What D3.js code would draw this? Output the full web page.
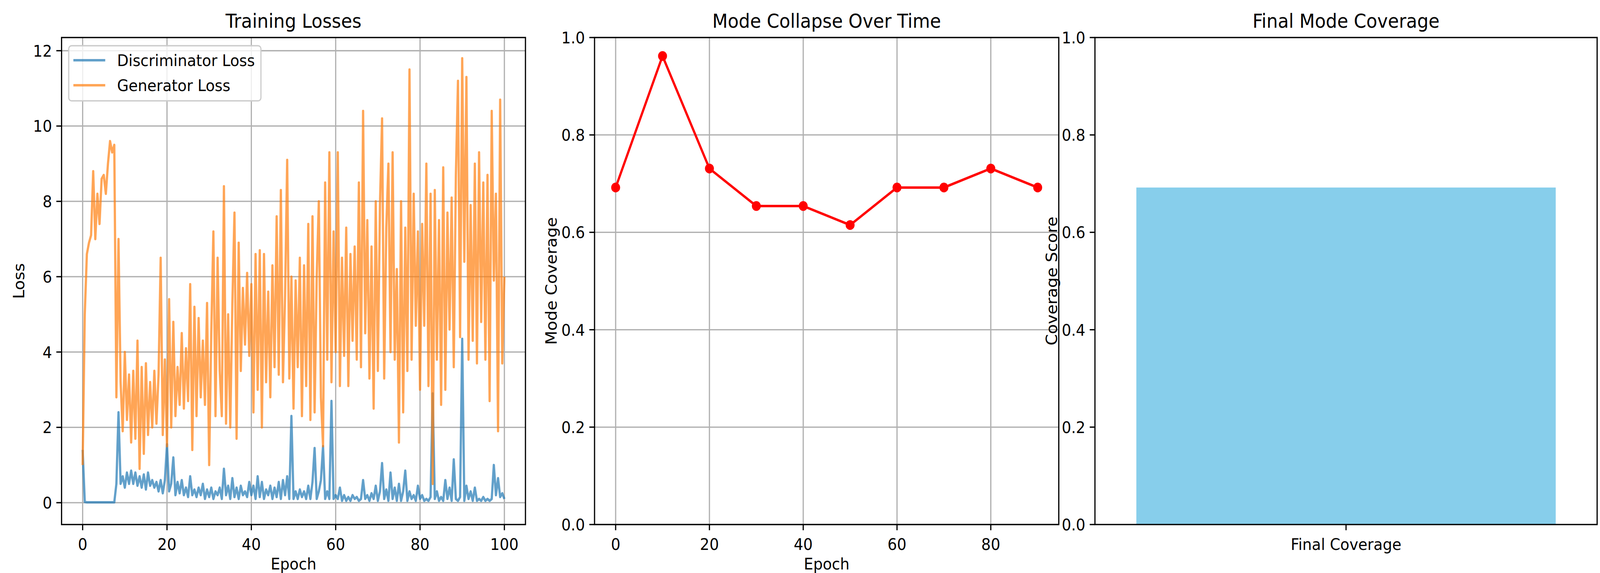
<!DOCTYPE html>
<html><head><meta charset="utf-8">
<script src="https://cdn.jsdelivr.net/npm/d3@7"></script>
<style>html,body{margin:0;padding:0;width:100%;height:100%;overflow:hidden;background:#fff}
svg{display:block;width:100vw;height:100vh}text{font-family:"DejaVu Sans",sans-serif;fill:#000}</style>
</head><body><svg id="c" viewBox="0 0 4470 1466" preserveAspectRatio="none"></svg>
<script>
// loss values, one value per half epoch
var genLoss = [1.0,5.0,6.6,6.9,7.1,8.8,7.0,8.2,7.4,8.6,8.7,8.2,9.0,9.6,9.3,9.5,2.8,7.0,3.2,1.9,4.0,2.2,3.4,1.6,3.5,1.7,4.3,0.9,3.6,1.3,3.7,1.8,3.2,2.0,3.5,2.1,3.4,6.5,1.8,3.8,1.5,5.4,2.0,4.8,2.3,3.6,2.6,4.5,2.5,4.1,2.7,5.8,1.4,5.2,2.3,4.9,2.8,4.3,2.6,5.3,1.0,4.5,7.2,2.3,6.5,3.5,2.3,8.4,2.1,5.0,2.0,5.3,7.7,1.7,6.9,3.5,5.7,4.2,6.1,3.9,5.8,2.4,6.6,3.0,6.7,2.0,6.6,3.2,5.6,2.8,6.3,3.6,7.6,3.4,8.3,3.2,5.5,9.1,3.3,6.0,2.5,5.9,3.6,6.5,2.3,6.3,3.1,7.4,2.2,7.6,2.4,6.0,8.0,2.8,1.5,8.5,3.8,9.3,3.2,7.2,4.0,9.3,3.1,6.5,3.9,7.3,3.1,6.6,4.3,6.8,3.8,8.5,3.6,10.4,4.5,7.5,3.3,6.8,2.5,8.0,3.5,7.9,10.2,3.3,7.3,9.0,4.0,9.3,3.8,6.2,1.6,8.0,2.4,7.3,3.5,11.5,3.8,8.2,4.7,7.2,3.0,7.4,4.7,9.0,3.1,8.2,0.5,8.3,3.8,7.5,2.6,8.9,3.0,7.7,4.6,8.1,3.6,8.7,11.2,4.4,11.8,6.4,11.3,3.8,7.9,4.3,9.0,3.7,9.3,4.8,8.5,3.8,8.7,2.7,10.4,5.9,8.2,1.9,10.7,3.7,6.0];
var discLoss = [1.4,0.02,0.01,0.01,0.01,0.01,0.01,0.01,0.01,0.01,0.01,0.01,0.01,0.01,0.01,0.01,0.5,2.4,0.5,0.7,0.4,0.8,0.5,0.85,0.5,0.8,0.45,0.7,0.4,0.75,0.35,0.8,0.45,0.6,0.4,0.55,0.3,0.6,0.25,0.6,1.55,0.3,0.5,1.2,0.2,0.55,0.25,0.6,0.2,0.4,0.15,0.7,0.2,0.35,0.15,0.4,0.2,0.5,0.1,0.35,0.15,0.4,0.1,0.3,0.2,0.4,0.1,0.9,0.2,0.45,0.1,0.65,0.15,0.4,0.1,0.45,0.2,0.3,0.15,0.55,0.2,0.45,0.1,0.7,0.15,0.55,0.1,0.35,0.2,0.45,0.1,0.4,0.15,0.55,0.1,0.6,0.2,0.7,0.1,2.3,0.1,0.3,0.1,0.35,0.15,0.3,0.1,0.45,0.1,0.55,1.45,0.1,0.3,0.6,1.5,0.1,0.3,0.1,2.7,0.1,0.2,0.1,0.4,0.05,0.2,0.05,0.15,0.05,0.2,0.1,0.15,0.05,0.1,0.6,0.1,0.2,0.05,0.25,0.1,0.45,0.05,0.3,1.05,0.1,0.35,0.05,0.8,0.1,0.4,0.05,0.5,0.05,0.3,0.85,0.05,0.3,0.1,0.2,0.05,0.45,0.1,0.2,0.05,0.1,0.05,0.15,2.9,0.1,0.3,0.05,0.15,0.05,0.6,0.1,0.4,0.05,1.15,0.1,0.05,0.15,4.35,0.05,0.45,0.1,0.3,0.05,0.4,0.05,0.1,0.05,0.15,0.05,0.1,0.05,0.1,1.0,0.2,0.65,0.15,0.25,0.1];
var modeEpochs = [0,10,20,30,40,50,60,70,80,90];
var modeCoverage = [0.692,0.962,0.731,0.654,0.654,0.615,0.692,0.692,0.731,0.692];
var barLabels = ["Final Coverage"];
var barValues = [0.692];

var svg = d3.select("#c");
var FS = 41.7, LW = 3.33, TICK = 14.6;

function frame(g, x, y, opts) {
    var xr = x.range(), yr = y.range();
    if (opts.grid) {
        g.selectAll(".gx").data(opts.xticks).enter().append("line")
            .attr("x1", d => x(d)).attr("x2", d => x(d)).attr("y1", yr[0]).attr("y2", yr[1])
            .attr("stroke", "#b0b0b0").attr("stroke-width", LW);
        g.selectAll(".gy").data(opts.yticks).enter().append("line")
            .attr("x1", xr[0]).attr("x2", xr[1]).attr("y1", d => y(d)).attr("y2", d => y(d))
            .attr("stroke", "#b0b0b0").attr("stroke-width", LW);
    }
}
function axes(g, x, y, opts) {
    var xr = x.range(), yr = y.range();
    g.append("rect").attr("x", xr[0]).attr("y", yr[1]).attr("width", xr[1]-xr[0]).attr("height", yr[0]-yr[1])
        .attr("fill", "none").attr("stroke", "#000").attr("stroke-width", LW);
    opts.xticks.forEach(function (d, i) {
        g.append("line").attr("x1", x(d)).attr("x2", x(d)).attr("y1", yr[0]).attr("y2", yr[0]+TICK).attr("stroke","#000").attr("stroke-width", LW);
        g.append("text").attr("x", x(d)).attr("y", yr[0]+TICK+50).attr("text-anchor","middle").attr("font-size", FS)
            .text(opts.xlabels ? opts.xlabels[i] : d);
    });
    opts.yticks.forEach(function (d) {
        g.append("line").attr("x1", xr[0]-TICK).attr("x2", xr[0]).attr("y1", y(d)).attr("y2", y(d)).attr("stroke","#000").attr("stroke-width", LW);
        g.append("text").attr("x", xr[0]-TICK-12).attr("y", y(d)+15).attr("text-anchor","end").attr("font-size", FS)
            .text(opts.yfmt(d));
    });
    g.append("text").attr("x", (xr[0]+xr[1])/2).attr("y", 71).attr("text-anchor","middle").attr("font-size", 50).text(opts.title);
    if (opts.xtitle) g.append("text").attr("x", (xr[0]+xr[1])/2).attr("y", 1457).attr("text-anchor","middle").attr("font-size", FS).text(opts.xtitle);
    g.append("text").attr("transform", "translate(" + opts.ytx + "," + (yr[0]+yr[1])/2 + ") rotate(-90)")
        .attr("text-anchor","middle").attr("font-size", FS).text(opts.ytitle);
}

// panel 1: losses
var x1 = d3.scaleLinear().domain([-5, 105]).range([172, 1468]);
var y1 = d3.scaleLinear().domain([-0.58, 12.35]).range([1342, 96]);
var g1 = svg.append("g");
var o1 = {grid: true, xticks: [0,20,40,60,80,100], yticks: [0,2,4,6,8,10,12], yfmt: d => d,
    title: "Training Losses", xtitle: "Epoch", ytitle: "Loss", ytx: 68};
frame(g1, x1, y1, o1);
var line1 = d3.line().x((d, i, a) => x1(i * 100 / (a.length - 1))).y(d => y1(d));
g1.append("path").attr("d", line1(discLoss)).attr("fill","none").attr("stroke","#1f77b4").attr("stroke-opacity",0.7).attr("stroke-width",6.25).attr("stroke-linejoin","round");
g1.append("path").attr("d", line1(genLoss)).attr("fill","none").attr("stroke","#ff7f0e").attr("stroke-opacity",0.7).attr("stroke-width",6.25).attr("stroke-linejoin","round");
axes(g1, x1, y1, o1);
// legend
var lg = g1.append("g");
lg.append("rect").attr("x",192).attr("y",117).attr("width",537).attr("height",141).attr("rx",8)
    .attr("fill","#fff").attr("fill-opacity",0.8).attr("stroke","#ccc").attr("stroke-width",LW);
[["Discriminator Loss","#1f77b4",154],["Generator Loss","#ff7f0e",218]].forEach(function (r) {
    lg.append("line").attr("x1",205).attr("x2",294).attr("y1",r[2]).attr("y2",r[2]).attr("stroke",r[1]).attr("stroke-opacity",0.7).attr("stroke-width",6.25);
    lg.append("text").attr("x",327).attr("y",r[2]+15).attr("font-size",FS).text(r[0]);
});

// panel 2: mode coverage
var x2 = d3.scaleLinear().domain([-4.5, 94.5]).range([1661, 2958]);
var y2 = d3.scaleLinear().domain([0, 1]).range([1342, 96]);
var g2 = svg.append("g");
var o2 = {grid: true, xticks: [0,20,40,60,80], yticks: [0,0.2,0.4,0.6,0.8,1.0], yfmt: d3.format(".1f"),
    title: "Mode Collapse Over Time", xtitle: "Epoch", ytitle: "Mode Coverage", ytx: 1555};
frame(g2, x2, y2, o2);
g2.append("path").attr("d", d3.line().x((d, i) => x2(modeEpochs[i])).y(d => y2(d))(modeCoverage))
    .attr("fill","none").attr("stroke","red").attr("stroke-width",6.25);
g2.selectAll(".pt").data(modeCoverage).enter().append("circle")
    .attr("cx", (d, i) => x2(modeEpochs[i])).attr("cy", d => y2(d)).attr("r", 12.5).attr("fill","red");
axes(g2, x2, y2, o2);

// panel 3: final coverage bar
var x3 = d3.scaleLinear().domain([-0.479, 0.479]).range([3059, 4462]);
var y3 = d3.scaleLinear().domain([0, 1]).range([1342, 96]);
var g3 = svg.append("g");
g3.selectAll(".bar").data(barValues).enter().append("rect")
    .attr("x", (d, i) => x3(i - 0.4)).attr("width", x3(0.4) - x3(-0.4))
    .attr("y", d => y3(d)).attr("height", d => y3(0) - y3(d)).attr("fill", "skyblue");
axes(g3, x3, y3, {xticks: [0], xlabels: barLabels, yticks: [0,0.2,0.4,0.6,0.8,1.0], yfmt: d3.format(".1f"),
    title: "Final Mode Coverage", ytitle: "Coverage Score", ytx: 2953});
</script></body></html>
